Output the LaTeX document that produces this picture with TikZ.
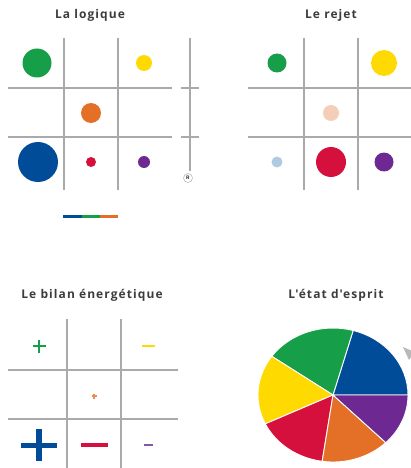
\documentclass[tikz,border=0pt]{standalone}
\usepackage{fontspec}
\setmainfont{Open Sans}
\newfontfamily\titlefont[LetterSpace=9]{Open Sans}
\definecolor{cgreen}{RGB}{22,158,72}
\definecolor{cyellow}{RGB}{255,218,0}
\definecolor{corange}{RGB}{228,112,40}
\definecolor{cblue}{RGB}{0,76,152}
\definecolor{cred}{RGB}{214,16,60}
\definecolor{cpurple}{RGB}{110,40,145}
\definecolor{cpeach}{RGB}{244,206,182}
\definecolor{clblue}{RGB}{176,202,226}
\definecolor{cgrid}{RGB}{170,170,170}
\definecolor{ctitle}{RGB}{60,60,60}
\begin{document}
\begin{tikzpicture}[x=1pt,y=-1pt,
  gridline/.style={draw=cgrid,line width=1.7pt},
  dot/.style={circle,inner sep=0pt,draw=none},
  ttl/.style={font=\titlefont\bfseries\fontsize{12}{14}\selectfont,text=ctitle,inner sep=0pt},
  slice/.style={draw=white,line width=0.9pt,line join=round}]
\useasboundingbox (0,0) rectangle (411,468);
% ---------- La logique ----------
\node[ttl] (t1) at (90,15) {La logique};
\draw[gridline] (64,38) -- (64,190);
\draw[gridline] (118,38) -- (118,190);
\draw[gridline] (8,88) -- (172,88);
\draw[gridline] (8,137) -- (172,137);
\draw[gridline] (190,38) -- (190,171);
\draw[gridline] (181,88) -- (199,88);
\draw[gridline] (181,137) -- (199,137);
\node[circle,draw=cgrid!80,fill=white,line width=0.6pt,inner sep=0pt,minimum size=9pt,font=\sffamily\bfseries\fontsize{5}{5}\selectfont] (r) at (188,178) {R};
\node[dot,fill=cgreen,minimum size=29pt] (g1) at (37,63) {};
\node[dot,fill=cyellow,minimum size=16pt] (y1) at (144,63) {};
\node[dot,fill=corange,minimum size=20pt] (o1) at (91,113) {};
\node[dot,fill=cblue,minimum size=40pt] (b1) at (38,162) {};
\node[dot,fill=cred,minimum size=10pt] (r1) at (91,162) {};
\node[dot,fill=cpurple,minimum size=12pt] (p1) at (144,162) {};
\fill[cblue] (63,214.5) rectangle (82,218);
\fill[cgreen] (82,214.5) rectangle (100,218);
\fill[corange] (100,214.5) rectangle (118,218);
% ---------- Le rejet ----------
\node[ttl] (t2) at (331,15) {Le rejet};
\draw[gridline] (304,38) -- (304,190);
\draw[gridline] (358,38) -- (358,190);
\draw[gridline] (248,88) -- (411,88);
\draw[gridline] (248,137) -- (411,137);
\node[dot,fill=cgreen,minimum size=19pt] (g2) at (277,63) {};
\node[dot,fill=cyellow,minimum size=26pt] (y2) at (384,63) {};
\node[dot,fill=cpeach,minimum size=16pt] (o2) at (331,113) {};
\node[dot,fill=clblue,minimum size=11pt] (b2) at (277,162) {};
\node[dot,fill=cred,minimum size=30pt] (r2) at (331,162) {};
\node[dot,fill=cpurple,minimum size=19pt] (p2) at (384,162) {};
% ---------- Le bilan energetique ----------
\node[ttl] (t3) at (92,295) {Le bilan énergétique};
\draw[gridline] (67,319) -- (67,468);
\draw[gridline] (121,319) -- (121,468);
\draw[gridline] (8,370) -- (178,370);
\draw[gridline] (8,419) -- (178,419);
% green plus
\fill[cgreen] (32.5,344.8) rectangle (45.5,347.4);
\fill[cgreen] (37.7,339.6) rectangle (40.3,352.6);
% yellow minus
\fill[cyellow] (142,345) rectangle (155,347.2);
% orange small plus
\fill[corange!80] (91.5,395.4) rectangle (96.5,396.8);
\fill[corange!80] (93.3,393.6) rectangle (94.7,398.6);
% blue big plus
\fill[cblue] (21,442.5) rectangle (57,447.8);
\fill[cblue] (36.4,429) rectangle (41.6,461);
% red minus
\fill[cred] (80.5,443) rectangle (107.5,447);
% purple minus
\fill[cpurple!80] (144,444.2) rectangle (153,445.8);
% ---------- L'etat d'esprit ----------
\node[ttl] (t4) at (336,295) {L'état d'esprit};
\begin{scope}[shift={(333,395)},y=1pt]
  \coordinate (c) at (0,0);
  \filldraw[slice,fill=cblue] (c) -- (0:75 and 67) arc[start angle=0,end angle=74.4,x radius=75,y radius=67] -- cycle;
  \filldraw[slice,fill=cgreen] (c) -- (74.4:75 and 67) arc[start angle=74.4,end angle=144.7,x radius=75,y radius=67] -- cycle;
  \filldraw[slice,fill=cyellow] (c) -- (144.7:75 and 67) arc[start angle=144.7,end angle=205.5,x radius=75,y radius=67] -- cycle;
  \filldraw[slice,fill=cred] (c) -- (205.5:75 and 67) arc[start angle=205.5,end angle=261.7,x radius=75,y radius=67] -- cycle;
  \filldraw[slice,fill=corange] (c) -- (261.7:75 and 67) arc[start angle=261.7,end angle=314.7,x radius=75,y radius=67] -- cycle;
  \filldraw[slice,fill=cpurple] (c) -- (314.7:75 and 67) arc[start angle=314.7,end angle=360,x radius=75,y radius=67] -- cycle;
\end{scope}
\fill[gray!55] (403,347) -- (411,350.5) -- (411,357) -- (409,360) -- cycle;
\end{tikzpicture}
\end{document}
